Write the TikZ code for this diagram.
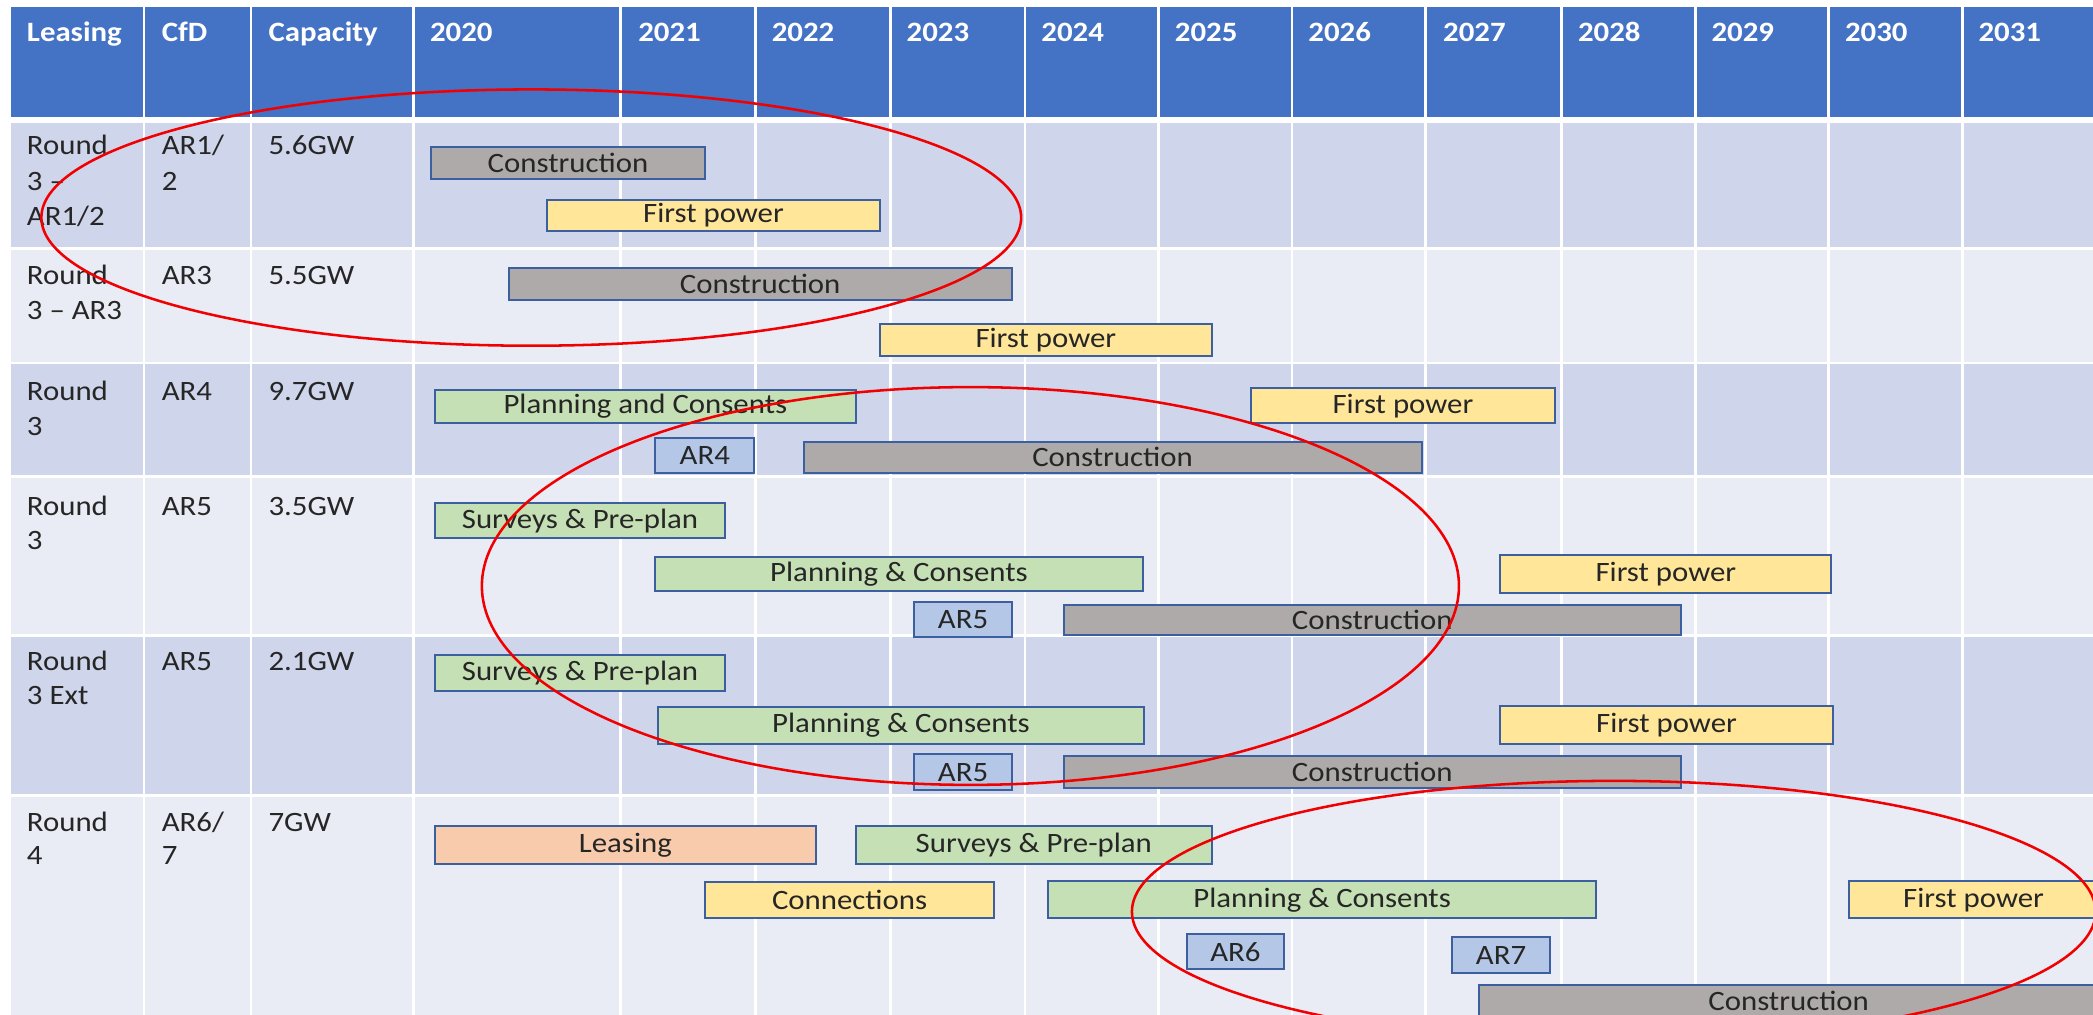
\documentclass[tikz,border=0pt]{standalone}
\usepackage{fontspec}
\setmainfont{Carlito}[FakeStretch=1.1]
\definecolor{hdr}{HTML}{4472C4}
\definecolor{rowA}{HTML}{CFD5EA}
\definecolor{rowB}{HTML}{E9EBF5}
\definecolor{barline}{HTML}{3C5F9F}
\definecolor{cgray}{HTML}{AEAAAA}
\definecolor{cyel}{HTML}{FFE699}
\definecolor{cgreen}{HTML}{C5E0B4}
\definecolor{cblue}{HTML}{B4C7E7}
\definecolor{csalmon}{HTML}{F8CBAD}
\definecolor{txt}{HTML}{262626}
\definecolor{ring}{HTML}{F00000}
\newcommand\mybar[7]{%
  \node[ganttbar,fill=#6,minimum width={(#4-#2)*1pt},minimum height={(#5-#3)*1pt}] (#1) at ({(#2+#4)/2},{(#3+#5)/2}) {#7};}
\begin{document}
\begin{tikzpicture}[x=1pt,y=-1pt,
  hd/.style={anchor=base west, inner sep=0pt, text=white, font=\fontsize{21}{25}\selectfont\bfseries},
  cell/.style={anchor=base west, inner sep=0pt, text=txt, font=\fontsize{21}{25}\selectfont},
  ganttbar/.style={draw=barline, line width=1.5pt, inner sep=0pt, text=txt, font=\fontsize{21}{25}\selectfont},
  gridline/.style={white, line width=2pt},
  ringline/.style={ring, line width=1.9pt}]
\useasboundingbox (0,0) rectangle (1568,760);
\clip (0,0) rectangle (1568,760);
\fill[white] (0,0) rectangle (1568,760);
% bands
\fill[hdr] (8,5) rectangle (1580,88);
\fill[rowB] (8,92) rectangle (1580,780);
\fill[rowA] (8,92) rectangle (1580,186);
\fill[rowA] (8,272) rectangle (1580,357);
\fill[rowA] (8,476) rectangle (1580,596);
% grid
\foreach \gx in {108,188,310,465,566,667,768,868,968,1068,1170,1270,1370,1470}
  \draw[gridline] (\gx,5) -- (\gx,780);
\foreach \gy in {186,272,357,476,596}
  \draw[gridline] (8,\gy) -- (1580,\gy);
\fill[white] (8,88) rectangle (1580,92);
% header
\node[hd] (hLeasing) at (20,31) {Leasing};
\node[hd] (hCfD) at (121,31) {CfD};
\node[hd] (hCap) at (201,31) {Capacity};
\node[hd] (y2020) at (322,31) {2020};
\node[hd] (y2021) at (478,31) {2021};
\node[hd] (y2022) at (578,31) {2022};
\node[hd] (y2023) at (679,31) {2023};
\node[hd] (y2024) at (780,31) {2024};
\node[hd] (y2025) at (880,31) {2025};
\node[hd] (y2026) at (980,31) {2026};
\node[hd] (y2027) at (1081,31) {2027};
\node[hd] (y2028) at (1182,31) {2028};
\node[hd] (y2029) at (1282,31) {2029};
\node[hd] (y2030) at (1382,31) {2030};
\node[hd] (y2031) at (1482,31) {2031};
% row 1
\node[cell] (r1a) at (20,116) {Round};
\node[cell] (r1b) at (20,143) {3 –};
\node[cell] (r1c) at (20,169) {AR1/2};
\node[cell] (r1d) at (121,116) {AR1/};
\node[cell] (r1e) at (121,143) {2};
\node[cell] (r1f) at (201,116) {5.6GW};
% row 2
\node[cell] (r2a) at (20,213) {Round};
\node[cell] (r2b) at (20,239) {3 – AR3};
\node[cell] (r2d) at (121,213) {AR3};
\node[cell] (r2f) at (201,213) {5.5GW};
% row 3
\node[cell] (r3a) at (20,300) {Round};
\node[cell] (r3b) at (20,326) {3};
\node[cell] (r3d) at (121,300) {AR4};
\node[cell] (r3f) at (201,300) {9.7GW};
% row 4
\node[cell] (r4a) at (20,386) {Round};
\node[cell] (r4b) at (20,412) {3};
\node[cell] (r4d) at (121,386) {AR5};
\node[cell] (r4f) at (201,386) {3.5GW};
% row 5
\node[cell] (r5a) at (20,502) {Round};
\node[cell] (r5b) at (20,528) {3 Ext};
\node[cell] (r5d) at (121,502) {AR5};
\node[cell] (r5f) at (201,502) {2.1GW};
% row 6
\node[cell] (r6a) at (20,623) {Round};
\node[cell] (r6b) at (20,648) {4};
\node[cell] (r6d) at (121,623) {AR6/};
\node[cell] (r6e) at (121,648) {7};
\node[cell] (r6f) at (201,623) {7GW};
% bars
\mybar{c1}{323}{110}{528}{134}{cgray}{Construction}
\mybar{f1}{410}{150}{659}{173}{cyel}{First power}
\mybar{c2}{381}{201}{758}{225}{cgray}{Construction}
\mybar{f2}{659}{243}{908}{267}{cyel}{First power}
\mybar{p3}{326}{292}{641}{317}{cgreen}{Planning and Consents}
\mybar{a3}{491}{328}{565}{354}{cblue}{AR4}
\mybar{c3}{602}{331}{1065}{354}{cgray}{Construction}
\mybar{f3}{937}{291}{1165}{317}{cyel}{First power}
\mybar{s4}{326}{377}{543}{403}{cgreen}{Surveys \& Pre-plan}
\mybar{p4}{491}{417}{856}{443}{cgreen}{Planning \& Consents}
\mybar{f4}{1124}{416}{1372}{444}{cyel}{First power}
\mybar{a4}{685}{451}{758}{477}{cblue}{AR5}
\mybar{c4}{797}{453}{1259}{476}{cgray}{Construction}
\mybar{s5}{326}{491}{543}{518}{cgreen}{Surveys \& Pre-plan}
\mybar{p5}{493}{530}{857}{557}{cgreen}{Planning \& Consents}
\mybar{f5}{1124}{529}{1373}{557}{cyel}{First power}
\mybar{a5}{685}{565}{758}{592}{cblue}{AR5}
\mybar{c5}{797}{566}{1259}{590}{cgray}{Construction}
\mybar{l6}{326}{619}{611}{647}{csalmon}{Leasing}
\mybar{s6}{641}{619}{908}{647}{cgreen}{Surveys \& Pre-plan}
\mybar{n6}{528}{661}{745}{688}{cyel}{Connections}
\mybar{p6}{785}{660}{1196}{688}{cgreen}{Planning \& Consents}
\mybar{f6}{1385}{660}{1572}{688}{cyel}{First power}
\mybar{a6}{889}{700}{962}{726}{cblue}{AR6}
\mybar{a7}{1088}{702}{1161}{729}{cblue}{AR7}
\mybar{c6}{1108}{738}{1572}{762}{cgray}{Construction}
% red rings
\draw[ringline] (398,163) ellipse [x radius=367pt, y radius=96pt];
\draw[ringline] (727,439) ellipse [x radius=366pt, y radius=149pt];
\draw[ringline] (1209,683) ellipse [x radius=361pt, y radius=98pt];
\end{tikzpicture}
\end{document}
